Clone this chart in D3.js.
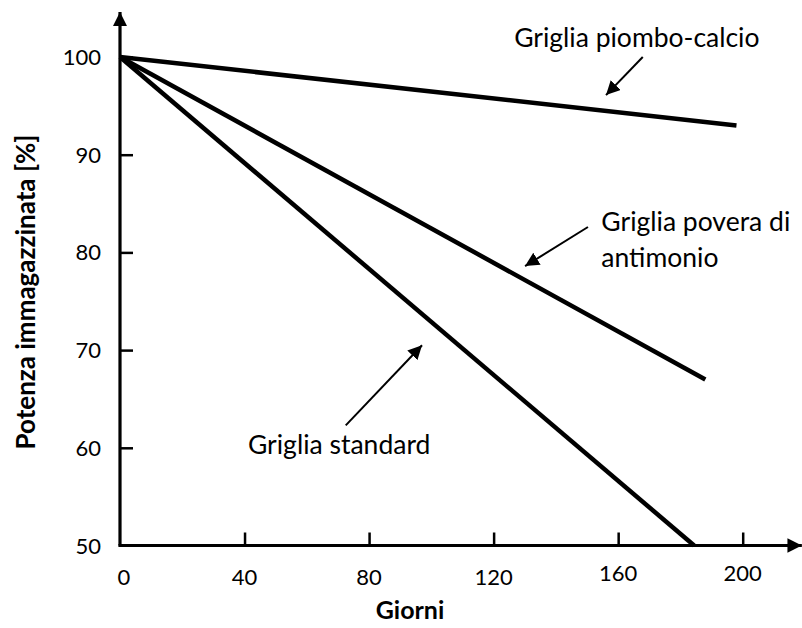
<!DOCTYPE html>
<html lang="it">
<head>
  <meta charset="UTF-8">
  <title>Potenza immagazzinata</title>
  <style>
    body { margin: 0; background: #fff; }
    svg text { font-family: Lato, "Open Sans", sans-serif; fill: #000; }
  </style>
</head>
<body>
  <div id="chart"></div>
  <script src="https://cdn.jsdelivr.net/npm/d3@7/dist/d3.min.js"></script>
  <script>
    // dati
    var xTicks = [0, 40, 80, 120, 160, 200]
    var yTicks = [50, 60, 70, 80, 90, 100]
    var seriesNames = ['Griglia piombo-calcio', 'Griglia povera di antimonio', 'Griglia standard']
    var seriesDays = [[0, 198], [0, 188], [0, 184.4]]
    var seriesValues = [[100, 93], [100, 67], [100, 50]]

    // annotazioni (in unita' dei dati)
    var labelLines = [['Griglia piombo-calcio'], ['Griglia povera di', 'antimonio'], ['Griglia standard']]
    var labelPos = [[166, 101], [154.6, 82.2], [41.1, 59.4]]
    var labelAnchor = ['middle', 'start', 'start']
    var arrowFrom = [[167.9, 100.0], [150.3, 82.6], [72.5, 62.3]]
    var arrowTo = [[156.1, 96.1], [130.1, 78.6], [97.0, 70.5]]

    var width = 802, height = 628
    var svg = d3.select('#chart').append('svg')
      .attr('width', width)
      .attr('height', height)

    var x = d3.scaleLinear().domain([0, 200]).range([120, 742.7])
    var y = d3.scaleLinear().domain([50, 100]).range([545.5, 57])

    var defs = svg.append('defs')
    defs.append('marker')
      .attr('id', 'head')
      .attr('viewBox', '0 0 10 10')
      .attr('refX', 10).attr('refY', 5)
      .attr('markerWidth', 7).attr('markerHeight', 7)
      .attr('markerUnits', 'strokeWidth')
      .attr('orient', 'auto')
      .append('path').attr('d', 'M0,0 L10,5 L0,10 Z').attr('fill', '#000')
    defs.append('marker')
      .attr('id', 'axhead')
      .attr('viewBox', '0 0 10 10')
      .attr('refX', 10).attr('refY', 5)
      .attr('markerWidth', 4.5).attr('markerHeight', 4.5)
      .attr('markerUnits', 'strokeWidth')
      .attr('orient', 'auto')
      .append('path').attr('d', 'M0,0 L10,5 L0,10 Z').attr('fill', '#000')

    // assi con freccia
    svg.append('line')
      .attr('x1', x(0)).attr('y1', y(50))
      .attr('x2', x(0)).attr('y2', y(104.6))
      .attr('stroke', '#000').attr('stroke-width', 3.2)
      .attr('marker-end', 'url(#axhead)')
    svg.append('line')
      .attr('x1', x(0) - 1.6).attr('y1', y(50))
      .attr('x2', x(219)).attr('y2', y(50))
      .attr('stroke', '#000').attr('stroke-width', 3.2)
      .attr('marker-end', 'url(#axhead)')

    var xAxis = d3.axisTop(x).tickValues(xTicks.slice(1)).tickSize(13).tickFormat('')
    svg.append('g')
      .attr('transform', 'translate(0,' + y(50) + ')')
      .call(xAxis)
      .call(function (g) {
        g.select('.domain').remove()
        g.selectAll('.tick line').attr('stroke', '#000').attr('stroke-width', 2.5)
      })
    var yAxis = d3.axisRight(y).tickValues(yTicks.slice(1)).tickSize(13).tickFormat('')
    svg.append('g')
      .attr('transform', 'translate(' + x(0) + ',0)')
      .call(yAxis)
      .call(function (g) {
        g.select('.domain').remove()
        g.selectAll('.tick line').attr('stroke', '#000').attr('stroke-width', 2.5)
      })

    // etichette dei tick
    svg.append('g').selectAll('text')
      .data(xTicks).enter().append('text')
      .attr('x', function (d) { return x(d) + (d === 0 ? 4 : 0) })
      .attr('y', function (d) { return d >= 160 ? 581 : 585 })
      .attr('text-anchor', 'middle')
      .attr('font-size', 22)
      .text(function (d) { return d })
    svg.append('g').selectAll('text')
      .data(yTicks).enter().append('text')
      .attr('x', 101)
      .attr('y', function (d) { return y(d) + 8 })
      .attr('text-anchor', 'end')
      .attr('font-size', 22)
      .text(function (d) { return d })

    // titoli degli assi
    svg.append('text')
      .attr('x', 410).attr('y', 619)
      .attr('text-anchor', 'middle')
      .attr('font-size', 25)
      .attr('font-weight', 'bold')
      .text('Giorni')
    svg.append('text')
      .attr('transform', 'translate(35,292) rotate(-90)')
      .attr('text-anchor', 'middle')
      .attr('font-size', 26)
      .attr('font-weight', 'bold')
      .text('Potenza immagazzinata [%]')

    // linee delle serie
    var line = d3.line()
      .x(function (d) { return x(d[0]) })
      .y(function (d) { return y(d[1]) })
    svg.append('g').selectAll('path')
      .data(seriesNames).enter().append('path')
      .attr('d', function (name, i) {
        return line(d3.zip(seriesDays[i], seriesValues[i]))
      })
      .attr('fill', 'none')
      .attr('stroke', '#000')
      .attr('stroke-width', 4.5)

    // frecce e testi delle annotazioni
    svg.append('g').selectAll('line')
      .data(arrowFrom).enter().append('line')
      .attr('x1', function (d) { return x(d[0]) })
      .attr('y1', function (d) { return y(d[1]) })
      .attr('x2', function (d, i) { return x(arrowTo[i][0]) })
      .attr('y2', function (d, i) { return y(arrowTo[i][1]) })
      .attr('stroke', '#000')
      .attr('stroke-width', 2)
      .attr('marker-end', 'url(#head)')

    var labels = svg.append('g').selectAll('text')
      .data(labelLines).enter().append('text')
      .attr('x', function (d, i) { return x(labelPos[i][0]) })
      .attr('y', function (d, i) { return y(labelPos[i][1]) })
      .attr('text-anchor', function (d, i) { return labelAnchor[i] })
      .attr('font-size', 26.5)
    labels.selectAll('tspan')
      .data(function (d, i) { return d.map(function (t) { return { t: t, i: i } }) })
      .enter().append('tspan')
      .attr('x', function (d) { return x(labelPos[d.i][0]) })
      .attr('dy', function (d, j) { return j === 0 ? 0 : 36 })
      .text(function (d) { return d.t })
  </script>
</body>
</html>
